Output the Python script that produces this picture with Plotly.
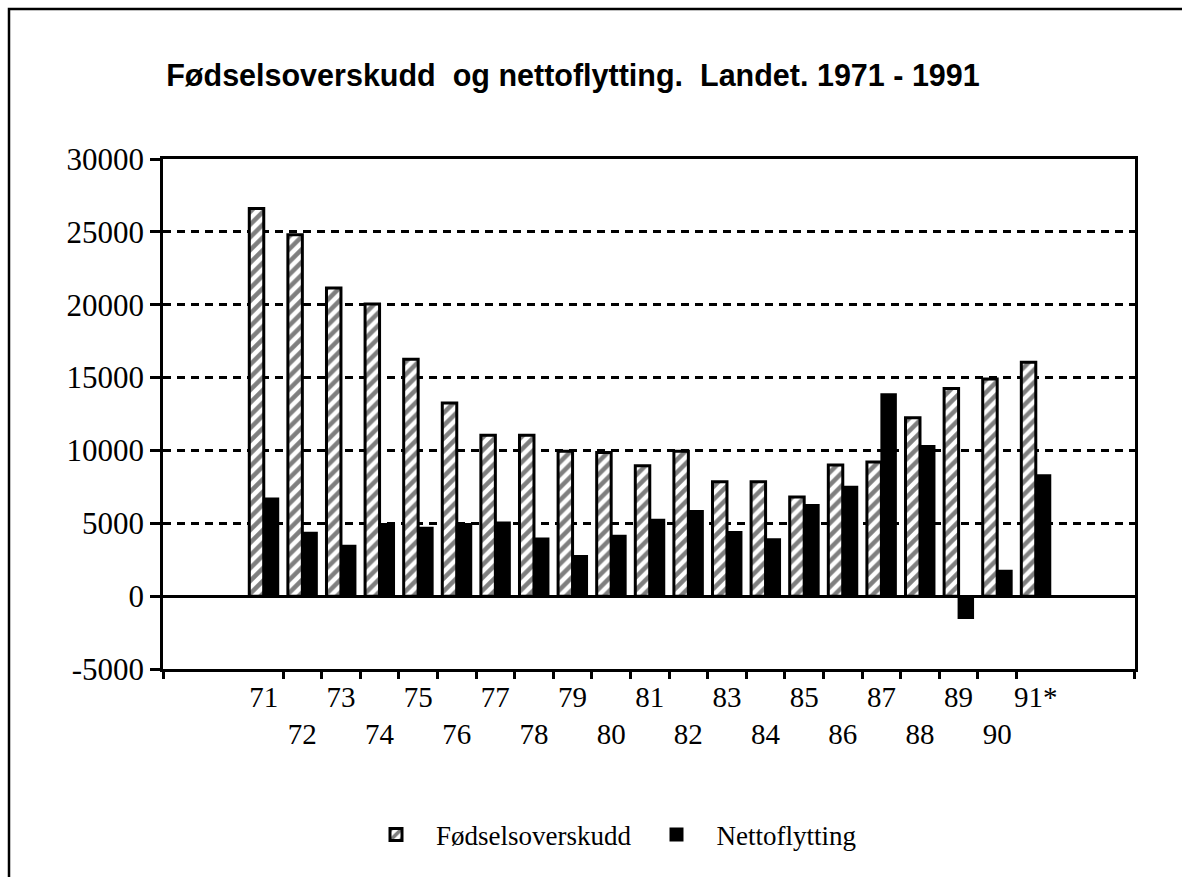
import plotly.graph_objects as go

years = ["71", "72", "73", "74", "75", "76", "77", "78", "79", "80", "81",
         "82", "83", "84", "85", "86", "87", "88", "89", "90", "91*"]
tick_labels = ["71", "<br>72", "73", "<br>74", "75", "<br>76", "77", "<br>78",
               "79", "<br>80", "81", "<br>82", "83", "<br>84", "85", "<br>86",
               "87", "<br>88", "89", "<br>90", "91*"]
fodselsoverskudd = [26600, 24800, 21150, 20050, 16250, 13250, 11050, 11050,
                    9950, 9850, 8950, 9950, 7850, 7850, 6800, 9000, 9200,
                    12250, 14250, 14900, 16050]
nettoflytting = [6700, 4350, 3450, 4950, 4700, 4950, 5050, 3950, 2750, 4150,
                 5250, 5850, 4400, 3900, 6250, 7500, 13850, 10300, -1500,
                 1750, 8300]
y_ticks = [-5000, 0, 5000, 10000, 15000, 20000, 25000, 30000]
y_tick_text = ["-5000", "0", "5000", "10000", "15000", "20000", "25000", "30000"]

SERIF = "Liberation Serif, Times New Roman, serif"
SANS = "Liberation Sans, Arial, sans-serif"

W, H = 1182, 877
L, R, T, B = 163, 47, 159, 208
PW, PH = W - L - R, H - T - B

XR = [-2.61, 22.57]
YR = [-5000, 30000]

fig = go.Figure()
fig.add_trace(go.Bar(
    x=years, y=fodselsoverskudd, name="Fødselsoverskudd",
    marker=dict(color="white", line=dict(color="black", width=3),
                pattern=dict(shape="/", fgcolor="black", bgcolor="white",
                             size=9, solidity=0.5)),
))
fig.add_trace(go.Bar(
    x=years, y=nettoflytting, name="Nettoflytting",
    marker=dict(color="black", line=dict(color="black", width=2)),
))
# empty helper trace so the boundary-tick axis is drawn
fig.add_trace(go.Scatter(x=[], y=[], xaxis="x2", yaxis="y",
                         showlegend=False, hoverinfo="skip"))

fig.update_layout(
    width=W, height=H,
    margin=dict(l=L, r=R, t=T, b=B),
    paper_bgcolor="white", plot_bgcolor="white",
    barmode="group", bargap=0.25, bargroupgap=0.0,
    title=dict(text="Fødselsoverskudd  og nettoflytting.  Landet. 1971 - 1991",
               font=dict(family=SANS, size=30.5, color="black", weight="bold"),
               x=573 / W, xanchor="center", xref="container",
               y=1 - 75 / H, yanchor="middle", yref="container"),
    showlegend=True,
    legend=dict(orientation="h", x=(356 - L) / PW, xanchor="left",
                y=(PH - (835 - T)) / PH, yanchor="middle", itemwidth=70,
                font=dict(family=SERIF, size=27, color="black"),
                bgcolor="rgba(0,0,0,0)", traceorder="normal"),
    xaxis=dict(type="category", range=XR, tickvals=years, ticktext=tick_labels,
               ticks="", tickangle=0, showgrid=False, zeroline=False,
               showline=True, linecolor="black", linewidth=2.5, mirror=True,
               tickfont=dict(family=SERIF, size=29, color="black"),
               ticklabelstandoff=0),
    xaxis2=dict(type="linear", overlaying="x", anchor="y", side="bottom",
                range=XR,
                tickvals=[XR[0] + 0.01] + [i + 0.5 for i in range(len(years) - 1)]
                + [XR[1] - 0.01],
                ticks="outside", ticklen=9, tickwidth=2.5, tickcolor="black",
                showticklabels=False, showgrid=False, zeroline=False,
                showline=False),
    yaxis=dict(range=YR, tickvals=y_ticks, ticktext=y_tick_text,
               ticks="outside", ticklen=10, tickwidth=2.5, tickcolor="black",
               showline=True, linecolor="black", linewidth=2.5, mirror=True,
               showgrid=True, gridcolor="black", gridwidth=2.5,
               griddash="8px,6px",
               zeroline=True, zerolinecolor="black", zerolinewidth=2.5,
               tickfont=dict(family=SERIF, size=31, color="black")),
    shapes=[dict(type="rect", xref="paper", yref="paper",
                 x0=(9 - L) / PW, x1=(1400 - L) / PW,
                 y0=(PH - (1000 - T)) / PH, y1=(PH - (9 - T)) / PH,
                 line=dict(color="black", width=2.5), fillcolor="rgba(0,0,0,0)",
                 layer="below")],
)

fig.write_html(
    "out.html",
    config={"displayModeBar": False},
    post_script="document.body.style.margin='0';document.body.style.overflow='hidden';",
)
